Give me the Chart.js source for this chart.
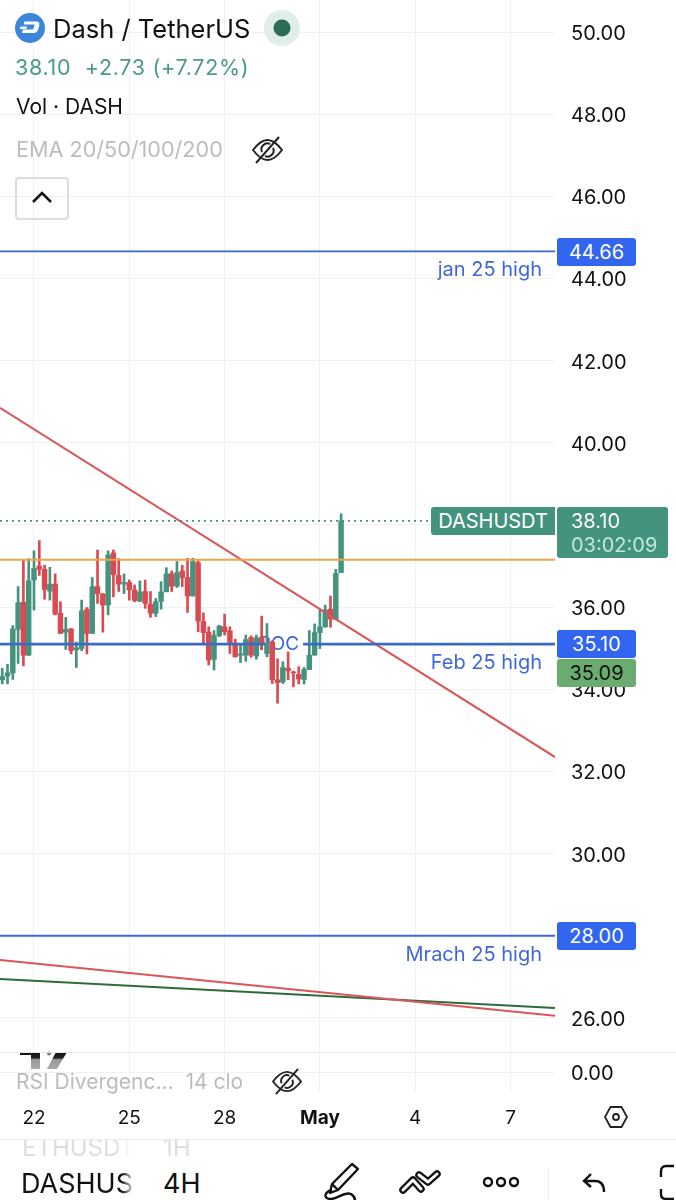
<!DOCTYPE html>
<html>
<head>
<meta charset="utf-8">
<title>Dash / TetherUS</title>
<script src="https://cdn.jsdelivr.net/npm/chart.js@4/dist/chart.umd.min.js"></script>
<style>
  html, body { margin: 0; padding: 0; background: #fff; }
  #page { position: relative; width: 676px; height: 1200px; overflow: hidden; font-family: Inter, "Noto Sans", sans-serif; color: #111; }
  canvas { position: absolute; left: 0; display: block; }
  .t { position: absolute; white-space: nowrap; line-height: 1; }
  .tag { position: absolute; left: 557px; width: 79px; height: 28px; line-height: 28px; padding-left: 0; font-size: 20px; text-align: center; border-radius: 3px; color: #fff; background: #3366f0; }
  .hl { position: absolute; right: 134px; font-size: 20px; line-height: 1; color: #3f67d8; white-space: nowrap; }
  svg { position: absolute; overflow: visible; }
</style>
</head>
<body>
<div id="page">
  <canvas id="mainChart" width="676" height="1052" style="top:0"></canvas>
  <canvas id="rsiChart" width="676" height="87" style="top:1052px"></canvas>

  <!-- header -->
  <svg style="left:15px;top:13px" width="30" height="30" viewBox="0 0 30 30">
    <circle cx="15" cy="15" r="15" fill="#3b86d9"/>
    <path d="M7 20h11.500c2.500 0 4-1.500 4.700-4l1-3.500c.7-2.500-.5-4-3-4H9.500l-.8 3h11l-1 3.500c-.3 1-1 1.500-2 1.500H7.800z" fill="#fff"/>
    <path d="M5.500 13.500h6.500l-.8 2.500H4.700z" fill="#fff"/>
  </svg>
  <div class="t" style="left:53px;top:16px;font-size:25.500px">Dash / TetherUS</div>
  <svg style="left:264px;top:10px" width="36" height="36">
    <circle cx="18" cy="18" r="18" fill="#dfeeea"/>
    <circle cx="18" cy="18" r="8.500" fill="#2d6a58"/>
  </svg>
  <div class="t" style="left:15px;top:57px;font-size:21.500px;color:#4a9a88;letter-spacing:.7px">38.10&nbsp; +2.73 (+7.72%)</div>
  <div class="t" style="left:16px;top:96px;font-size:21px">Vol · DASH</div>
  <div class="t" style="left:16px;top:139px;font-size:21.600px;color:#bcbcbc">EMA 20/50/100/200</div>
  <svg style="left:252px;top:136px" width="31" height="28" viewBox="0 0 31 28" fill="none" stroke="#222" stroke-width="2">
    <path d="M1 14C7 6 12 4 15.500 4S24 6 30 14C24 22 19 24 15.500 24S7 22 1 14z"/>
    <path d="M10 16a6 6 0 0 1 8-8M21 12a6 6 0 0 1-8 8"/>
    <path d="M4 27L27 1"/>
  </svg>
  <div style="position:absolute;left:15px;top:177px;width:50px;height:39px;border:2px solid #ddd;border-radius:4px"></div>
  <svg style="left:32px;top:191px" width="20" height="14" fill="none" stroke="#111" stroke-width="2.500">
    <path d="M1 11L10 2l9 9"/>
  </svg>

  <!-- level labels -->
  <div class="hl" style="top:259px">jan 25 high</div>
  <div class="hl" style="top:652px">Feb 25 high</div>
  <div class="hl" style="top:944px">Mrach 25 high</div>

  <!-- price tags -->
  <div class="tag" style="top:238px">44.66</div>
  <div style="position:absolute;left:431px;top:507px;width:124px;height:28px;line-height:28px;background:#44937f;color:#fff;font-size:20px;text-align:center;border-radius:3px 0 0 3px">DASHUSDT</div>
  <div style="position:absolute;left:557px;top:507px;width:111px;height:51px;background:#44937f;border-radius:3px"></div>
  <div class="t" style="left:571px;top:511px;font-size:20px;color:#fff">38.10</div>
  <div class="t" style="left:571px;top:535px;font-size:20px;color:#bfe8da">03:02:09</div>
  <div class="tag" style="top:630px">35.10</div>
  <div class="tag" style="top:659px;background:#6aab6f;color:#111">35.09</div>
  <div class="tag" style="top:922px">28.00</div>

  <!-- rsi pane -->
  <svg style="left:20px;top:1052px" width="48" height="18" viewBox="0 0 48 18">
    <defs>
      <linearGradient id="logoFade" x1="0" y1="0" x2="0" y2="1">
        <stop offset="0" stop-color="#111"/><stop offset=".35" stop-color="#222"/>
        <stop offset=".45" stop-color="#999"/><stop offset="1" stop-color="#aaa"/>
      </linearGradient>
    </defs>
    <path d="M0 0H20V17H11V3H0z" fill="url(#logoFade)"/>
    <circle cx="29" cy="1.500" r="2" fill="#777"/>
    <path d="M36 0H47L37 17H27z" fill="url(#logoFade)"/>
  </svg>
  <div class="t" style="left:16px;top:1071px;font-size:21px;color:#bcbcbc">RSI Divergenc...&nbsp; 14 clo</div>
  <svg style="left:272px;top:1068px" width="30" height="27" viewBox="0 0 31 28" fill="none" stroke="#222" stroke-width="2">
    <path d="M1 14C7 6 12 4 15.500 4S24 6 30 14C24 22 19 24 15.500 24S7 22 1 14z"/>
    <path d="M10 16a6 6 0 0 1 8-8M21 12a6 6 0 0 1-8 8"/>
    <path d="M4 27L27 1"/>
  </svg>
  <svg style="left:604px;top:1105px" width="24" height="24" viewBox="0 0 24 24" fill="none" stroke="#222" stroke-width="1.800">
    <path d="M6.500 2H17.500L23 12L17.500 22H6.500L1 12z"/>
    <circle cx="12" cy="12" r="3"/>
  </svg>

  <!-- bottom bar -->
  <div style="position:absolute;left:0;top:1139px;width:676px;height:1px;background:#eee"></div>
  <div style="position:absolute;left:0;top:1140px;width:300px;height:17px;overflow:hidden">
    <div class="t" style="left:22px;top:-4px;font-size:24px;color:#dedede;width:110px;overflow:hidden;-webkit-mask-image:linear-gradient(to right,#000 85%,transparent)">ETHUSDT</div>
    <div class="t" style="left:163px;top:-4px;font-size:24px;color:#dedede">1H</div>
  </div>
  <div class="t" style="left:21px;top:1170px;font-size:27px;width:114px;overflow:hidden;-webkit-mask-image:linear-gradient(to right,#000 88%,transparent)">DASHUSDT</div>
  <div class="t" style="left:163px;top:1170px;font-size:27px">4H</div>
  <svg style="left:322px;top:1163px" width="40" height="37" viewBox="0 0 40 37" fill="none" stroke="#111" stroke-width="2.400" stroke-linejoin="round">
    <path d="M30 1L36 6L16 27L8 30L10 21z"/>
    <path d="M10 21L16 27"/>
    <path d="M10 27C2 29 1 36 9 36C16 36 22 28 29 31C32 33 33 35 33 37"/>
  </svg>
  <svg style="left:400px;top:1170px" width="40" height="26" viewBox="0 0 40 26" fill="none" stroke-linecap="round" stroke-linejoin="round">
    <path d="M3 20L13 10L21 19" stroke="#111" stroke-width="7.500"/>
    <path d="M19 5L28 12L37 4" stroke="#111" stroke-width="7.500"/>
    <path d="M3 20L13 10L21 19" stroke="#fff" stroke-width="3"/>
    <path d="M19 5L28 12L37 4" stroke="#fff" stroke-width="3"/>
  </svg>
  <svg style="left:482px;top:1175px" width="38" height="14" fill="none" stroke="#111" stroke-width="2.400">
    <circle cx="6" cy="7" r="4"/><circle cx="19" cy="7" r="4"/><circle cx="32" cy="7" r="4"/>
  </svg>
  <div style="position:absolute;left:548px;top:1168px;width:1px;height:32px;background:#f0f0f0"></div>
  <svg style="left:582px;top:1173px" width="24" height="20" fill="none" stroke="#111" stroke-width="2.400">
    <path d="M9 1L2 8L9 14M2 8H13C19 8 22 12 22 19"/>
  </svg>
  <svg style="left:660px;top:1165px" width="16" height="35" fill="none" stroke="#111" stroke-width="2.400">
    <path d="M14 1H6C3 1 1 3 1 6V12M1 24V29C1 32 3 34 6 34H14"/>
  </svg>
</div>

<script>
// Candles, 4H each, oldest first. Days run on from April, so May 1 = 31.
const firstCandleDay = 21.0;
const candlesPerDay = 6;
const candleOpen = [34.23, 34.32, 34.40, 35.46, 36.12, 34.83, 36.66, 37.00, 36.92, 36.39, 36.56, 35.85, 35.39, 35.47, 34.96, 34.99, 35.95, 35.36, 36.50, 36.32, 36.05, 37.32, 36.77, 36.56, 36.60, 36.42, 36.14, 36.38, 36.07, 35.85, 36.14, 36.37, 36.81, 36.51, 36.88, 36.72, 36.27, 37.08, 35.65, 35.39, 34.73, 35.31, 35.52, 35.42, 35.12, 34.83, 34.83, 35.26, 34.81, 35.26, 34.87, 35.15, 34.23, 34.18, 34.51, 34.42, 34.36, 34.24, 34.48, 34.83, 35.38, 35.52, 35.95, 35.70, 36.84];
const candleClose = [34.31, 34.40, 35.47, 36.11, 34.83, 36.64, 36.94, 36.92, 36.43, 36.56, 35.83, 35.36, 35.46, 34.94, 35.01, 35.91, 35.36, 36.50, 36.32, 36.05, 37.27, 36.79, 36.56, 36.60, 36.42, 36.16, 36.37, 36.09, 35.85, 36.13, 36.37, 36.81, 36.51, 36.84, 36.72, 36.27, 37.11, 35.66, 35.38, 34.71, 35.31, 35.54, 35.40, 35.10, 34.79, 34.86, 35.21, 34.83, 35.25, 35.10, 35.13, 34.23, 34.16, 34.53, 34.45, 34.40, 34.25, 34.48, 34.83, 35.38, 35.52, 35.93, 35.71, 36.82, 38.10];
const candleHigh = [34.51, 34.61, 35.55, 36.50, 37.15, 37.18, 37.37, 37.62, 37.02, 36.97, 36.81, 36.13, 35.75, 35.48, 35.15, 36.17, 35.99, 36.72, 37.39, 36.33, 37.37, 37.39, 37.18, 36.81, 36.66, 36.54, 36.64, 36.66, 36.38, 36.21, 36.62, 36.96, 36.88, 37.11, 37.02, 37.19, 37.19, 37.13, 35.86, 35.52, 35.43, 35.56, 35.83, 35.52, 35.22, 35.10, 35.32, 35.30, 35.32, 35.78, 35.60, 35.18, 34.74, 34.67, 34.91, 34.44, 34.55, 34.53, 35.43, 35.59, 35.93, 36.05, 36.27, 36.92, 38.27];
const candleLow = [34.13, 34.13, 34.24, 34.63, 34.57, 34.82, 35.93, 36.77, 36.19, 36.17, 35.81, 35.36, 34.97, 34.86, 34.53, 34.94, 34.86, 35.36, 36.09, 35.39, 35.81, 36.25, 36.38, 36.33, 36.17, 36.13, 36.13, 35.97, 35.75, 35.77, 35.95, 36.38, 36.38, 36.48, 36.50, 35.87, 36.27, 35.40, 35.12, 34.59, 34.47, 35.28, 35.32, 34.87, 34.78, 34.65, 34.68, 34.78, 34.73, 34.96, 34.79, 34.14, 33.66, 34.14, 34.23, 34.06, 34.13, 34.13, 34.48, 34.83, 34.99, 35.51, 35.51, 35.70, 36.84];

// Axes
const priceTicks = [26, 28, 30, 32, 34, 36, 38, 40, 42, 44, 46, 48, 50];
const dayTicks = [22, 25, 28, 31, 34, 37];
const dayLabels = ["22", "25", "28", "May", "4", "7"];
const rsiTicks = [0];

// Drawn levels and trend lines
const lineFromDay = 20.93;
const lineToDay = 38.4;
const janHigh = 44.66;
const febHigh = 35.1;
const marchHigh = 28.0;
const orangeLevel = 37.15;
const lastPrice = 38.1;
const trendMainEnds = [40.85, 32.35];
const trendLowEnds = [27.41, 26.05];
const trendGreenEnds = [26.95, 26.24];
const pocGapDays = [29.27, 30.47];
const pocDay = 29.71;

const green = "#44937f";
const red = "#db4a50";
const lineBlue = "#3d66d8";
const gridColor = "#f1f1f4";
const candleColors = candleOpen.map((o, i) => (candleClose[i] >= o ? green : red));
const candleDays = candleOpen.map((o, i) => firstCandleDay + i / candlesPerDay);

function levelLine(value, color, width, dash) {
  return {
    type: "line",
    data: [{ x: lineFromDay, y: value }, { x: lineToDay, y: value }],
    borderColor: color,
    borderWidth: width,
    borderDash: dash || [],
    pointRadius: 0,
    order: 1,
  };
}

function trendLine(ends, color) {
  return {
    type: "line",
    data: [{ x: lineFromDay, y: ends[0] }, { x: lineToDay, y: ends[1] }],
    borderColor: color,
    borderWidth: 2,
    pointRadius: 0,
    order: 1,
  };
}

// POC label sits under the candles, on the Feb level
const pocLabel = {
  id: "pocLabel",
  beforeDatasetsDraw(chart) {
    const c = chart.ctx;
    c.save();
    c.fillStyle = lineBlue;
    c.font = "19px Inter";
    c.textAlign = "center";
    c.textBaseline = "middle";
    c.fillText("POC", chart.scales.x.getPixelForValue(pocDay), chart.scales.y.getPixelForValue(febHigh));
    c.restore();
  },
};

const xBase = {
  type: "linear",
  min: lineFromDay,
  max: lineToDay,
  offset: false,
  afterBuildTicks: (s) => { s.ticks = dayTicks.map((v) => ({ value: v })); },
  grid: { color: gridColor, offset: false, drawTicks: false },
  border: { display: false },
};

new Chart(document.getElementById("mainChart"), {
  type: "bar",
  plugins: [pocLabel],
  data: {
    datasets: [
      levelLine(janHigh, lineBlue, 1.8),
      {
        type: "line",
        data: [
          { x: lineFromDay, y: febHigh },
          { x: pocGapDays[0], y: febHigh },
          { x: pocGapDays[0], y: null },
          { x: pocGapDays[1], y: febHigh },
          { x: lineToDay, y: febHigh },
        ],
        borderColor: "#3a6cc4",
        borderWidth: 2.8,
        pointRadius: 0,
        order: 1,
      },
      levelLine(marchHigh, lineBlue, 1.8),
      levelLine(orangeLevel, "#eea24a", 2),
      levelLine(lastPrice, green, 1.6, [2, 4]),
      trendLine(trendMainEnds, "#d9565a"),
      trendLine(trendLowEnds, "#d9565a"),
      trendLine(trendGreenEnds, "#2f6b3a"),
      {
        data: candleDays.map((d, i) => ({ x: d, y: [candleLow[i], candleHigh[i]] })),
        backgroundColor: candleColors,
        barThickness: 2,
        grouped: false,
        order: 3,
      },
      {
        data: candleDays.map((d, i) => ({ x: d, y: [candleOpen[i], candleClose[i]] })),
        backgroundColor: candleColors,
        barThickness: 4.8,
        grouped: false,
        order: 2,
      },
    ],
  },
  options: {
    responsive: false,
    animation: false,
    layout: { padding: 0 },
    plugins: { legend: { display: false }, tooltip: { enabled: false } },
    scales: {
      x: { ...xBase, ticks: { display: false } },
      y: {
        position: "right",
        min: 25.17,
        max: 50.779,
        afterBuildTicks: (s) => { s.ticks = priceTicks.map((v) => ({ value: v })); },
        afterFit: (s) => { s.width = 121; s.paddingTop = 0; s.paddingBottom = 0; },
        ticks: {
          padding: 16,
          labelOffset: 2,
          color: "#111",
          font: { family: "Inter", size: 20 },
          callback: (v) => v.toFixed(2),
        },
        grid: { color: gridColor, drawTicks: false },
        border: { display: false },
      },
    },
  },
});

new Chart(document.getElementById("rsiChart"), {
  type: "line",
  data: { datasets: [{ data: [] }] },
  options: {
    responsive: false,
    animation: false,
    layout: { padding: 0 },
    plugins: { legend: { display: false }, tooltip: { enabled: false } },
    scales: {
      x: {
        ...xBase,
        afterFit: (s) => { s.height = 47; s.paddingLeft = 0; s.paddingRight = 0; },
        ticks: {
          maxRotation: 0,
          autoSkip: false,
          padding: 15,
          color: "#111",
          font: (ctx) => ({ family: "Inter", size: 19, weight: ctx.tick && ctx.tick.value === 31 ? "bold" : "normal" }),
          callback: (v) => dayLabels[dayTicks.indexOf(v)],
        },
      },
      y: {
        position: "right",
        min: -1,
        max: 1,
        afterBuildTicks: (s) => { s.ticks = rsiTicks.map((v) => ({ value: v })); },
        afterFit: (s) => { s.width = 121; s.paddingTop = 0; s.paddingBottom = 0; },
        ticks: {
          padding: 16,
          labelOffset: 2,
          color: "#111",
          font: { family: "Inter", size: 20 },
          callback: (v) => v.toFixed(2),
        },
        grid: { color: gridColor, drawTicks: false },
        border: { display: false },
      },
    },
  },
});
</script>
<div style="position:absolute;left:0;top:1052px;width:676px;height:1px;background:#e6e6e6"></div>
</body>
</html>
